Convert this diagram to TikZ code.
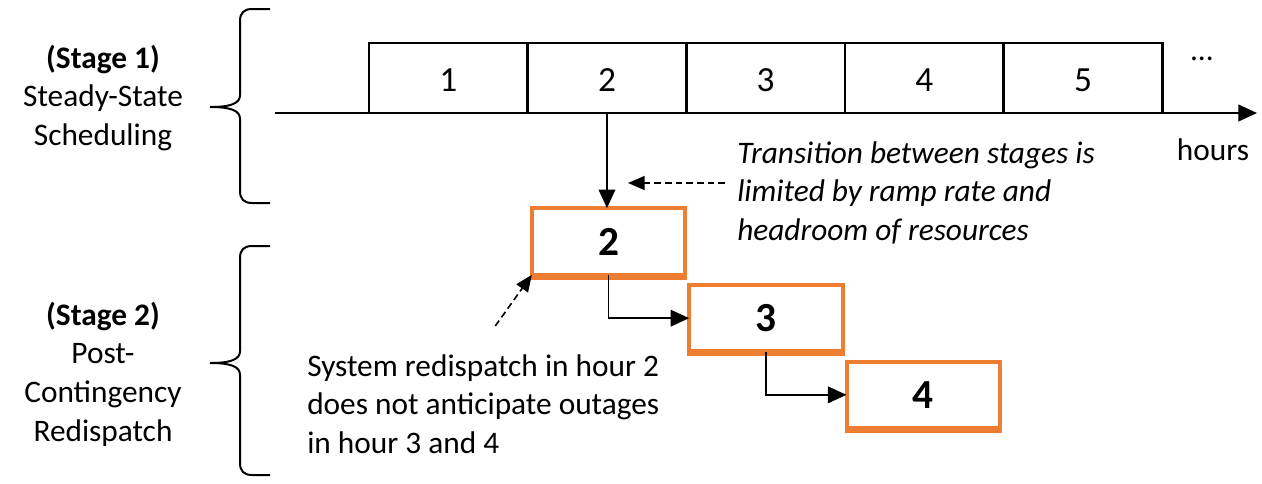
\documentclass[tikz,border=0pt]{standalone}
\usepackage{fontspec}
\setmainfont{Carlito}
\usepackage{xcolor}
\usetikzlibrary{arrows.meta,positioning}
\definecolor{stageorange}{HTML}{ED7D31}
\newcommand{\bodysize}{\fontsize{23.5pt}{29pt}\selectfont}

\begin{document}
\begin{tikzpicture}[
        x=0.75pt, y=-0.75pt,
        font=\bodysize,
        hour/.style={draw, line width=2.1pt, outer sep=0pt, minimum width=119pt, minimum height=52.5pt, text height=20.5pt, text depth=0pt, font=\fontsize{26.5pt}{29pt}\selectfont},
        redisp/.style={draw=stageorange, line width=3pt, outer sep=0pt, minimum width=115pt, minimum height=50pt, font=\fontsize{31pt}{36pt}\selectfont\bfseries},
        redispbase/.style={stageorange, line width=5.25pt},
        stagetext/.style={align=center, font=\bodysize},
        note/.style={align=left, inner sep=0pt, anchor=north west},
        bracket/.style={line width=1.5pt},
        line/.style={-{Triangle[length=14pt,width=12.5pt]}, line width=1.3pt},
        hint/.style={-{Triangle[length=12.5pt,width=10.5pt]}, line width=1.2pt, dash pattern=on 5pt off 3pt}
    ]
        \useasboundingbox (0,0) rectangle (1262,483);

        \node[hour] (h1) at (448.3,78) {1};
        \node[hour, right=0pt of h1] (h2) {2};
        \node[hour, right=0pt of h2] (h3) {3};
        \node[hour, right=0pt of h3] (h4) {4};
        \node[hour, right=0pt of h4] (h5) {5};
        \node[anchor=base] (dots) at (1202,60) {…};
        \node[anchor=base] (hours) at (1213,160) {hours};

        \node[redisp] (r2) at (608.5,241.5) {2};
        \node[redisp, below right=7.5pt and 3pt of r2] (r3) {3};
        \node[redisp, below right=7.5pt and 3pt of r3] (r4) {4};
        \draw[redispbase] ([shift={(-1.5pt,-1.1pt)}]r2.south west) -- ([shift={(1.5pt,-1.1pt)}]r2.south east);
        \draw[redispbase] ([shift={(-1.5pt,-1.1pt)}]r3.south west) -- ([shift={(1.5pt,-1.1pt)}]r3.south east);
        \draw[redispbase] ([shift={(-1.5pt,-1.1pt)}]r4.south west) -- ([shift={(1.5pt,-1.1pt)}]r4.south east);

        \node[stagetext] (stage1) at (103,98) {\textbf{(Stage 1)}\\Steady-State\\Scheduling};
        \node[stagetext] (stage2) at (103,374) {\textbf{(Stage 2)}\\Post-\\Contingency\\Redispatch};

        \node[note, font=\bodysize\itshape] (transnote) at (737,141) {Transition between stages is\\limited by ramp rate and\\headroom of resources};
        \node[note] (redispnote) at (307,354) {System redispatch in hour 2\\does not anticipate outages\\in hour 3 and 4};

        \draw[bracket] (270,9) -- (252,9) .. controls (244,9) and (240,13) .. (240,21) -- (240,95) .. controls (240,103) and (232,107) .. (210,107) .. controls (232,107) and (240,111) .. (240,119) -- (240,191) .. controls (240,199) and (244,203) .. (252,203) -- (270,203);
        \draw[bracket] (270,246) -- (252,246) .. controls (244,246) and (240,250) .. (240,258) -- (240,351) .. controls (240,359) and (232,363) .. (210,363) .. controls (232,363) and (240,367) .. (240,375) -- (240,463) .. controls (240,471) and (244,475) .. (252,475) -- (270,475);

        \coordinate (tstart) at (275,113);
        \coordinate (tend) at (1257,113);
        \coordinate (transtip) at (628,183);
        \draw[line, line width=1.5pt] (tstart) -- (tend);
        \draw[line] (h2.south) -- (h2.south |- r2.north);
        \draw[line] (r2.south) |- (r3.west);
        \draw[line] (r3.south) |- (r4.west);

        \draw[hint] ([xshift=-9pt]transnote.west |- transtip) -- (transtip);
        \draw[hint] ([shift={(9pt,21pt)}]redispnote.north) -- (r2.south west);
    \end{tikzpicture}
\end{document}
